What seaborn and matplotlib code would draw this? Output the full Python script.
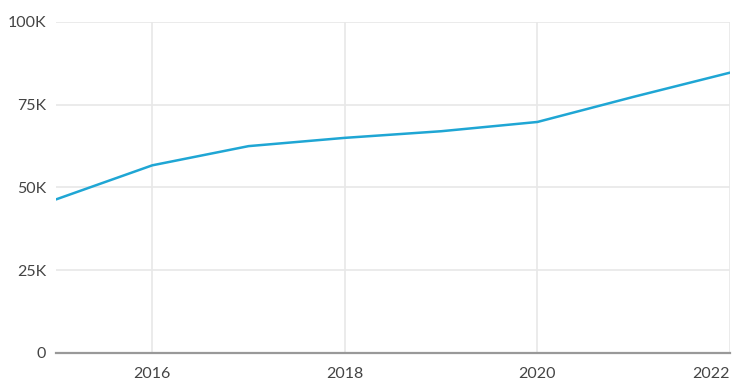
import pandas as pd
import numpy as np
import matplotlib.pyplot as plt
import seaborn as sns

# values
years = [2015, 2016, 2017, 2018, 2019, 2020, 2021, 2022]
values = [46400, 56700, 62500, 65000, 67000, 69800, 77400, 84700]
x_ticks = [2016, 2018, 2020, 2022]
y_ticks = [0, 25000, 50000, 75000, 100000]
y_labels = ["0", "25K", "50K", "75K", "100K"]

df = pd.DataFrame({"year": years, "value": values})

sns.set_theme(style="white")
plt.rcParams["font.family"] = ["Lato", "DejaVu Sans"]

fig = plt.figure(figsize=(7.49, 3.89), dpi=100)
ax = fig.add_axes([56 / 749, 36 / 389, 674 / 749, 331 / 389])

sns.lineplot(data=df, x="year", y="value", ax=ax, color="#1fa6d4", linewidth=1.8)

ax.set_xlim(2015, 2022)
ax.set_ylim(0, 100000)
ax.set_xticks(x_ticks)
ax.set_xticklabels([str(t) for t in x_ticks])
ax.set_yticks(y_ticks)
ax.set_yticklabels(y_labels)
ax.set_xlabel("")
ax.set_ylabel("")

ax.grid(True, color="#e8e8e8", linewidth=1.2)
ax.set_axisbelow(True)
for side in ["top", "right", "left"]:
    ax.spines[side].set_visible(False)
ax.spines["bottom"].set_color("#999999")
ax.spines["bottom"].set_linewidth(1.6)
ax.tick_params(axis="both", length=0, labelsize=11.5, colors="#444444")
ax.tick_params(axis="y", pad=7)
ax.tick_params(axis="x", pad=10)
# last year label sits inside the plot edge
ax.get_xticklabels()[-1].set_horizontalalignment("right")

fig.savefig("out.png", dpi=100)
